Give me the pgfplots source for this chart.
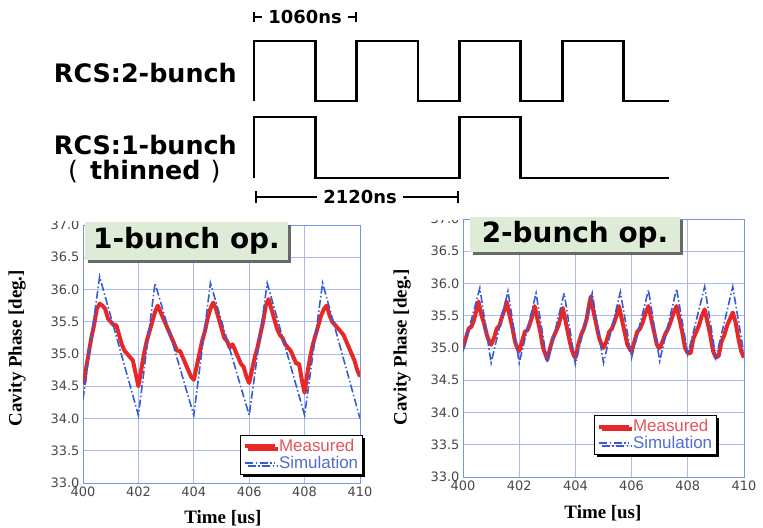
\documentclass[border=0pt]{standalone}
\usepackage{pgfplots}
\pgfplotsset{compat=1.18}
\usepackage{fontspec}
\setmainfont{Liberation Serif}
\newfontfamily\dejavu{DejaVu Sans}
\newfontfamily\libsans{Liberation Sans}
\usetikzlibrary{shadows}
\definecolor{measc}{RGB}{230,40,40}
\definecolor{simc}{RGB}{55,90,215}
\definecolor{gridc}{RGB}{170,185,240}
\definecolor{framec}{RGB}{120,145,235}
\definecolor{measT}{RGB}{228,85,90}
\definecolor{simT}{RGB}{80,110,210}
\definecolor{boxg}{RGB}{222,235,214}
\pgfplotsset{
 phase/.style={
  scale only axis, xmin=400, xmax=410, ymin=33, ymax=37,
  xtick={400,402,...,410}, ytick={33,33.5,...,37},
  grid=major, major grid style={gridc, line width=0.8bp},
  axis line style={framec, line width=0.9bp},
  tick style={draw=none},
  tick label style={font=\dejavu\fontsize{13}{13}\selectfont, text=black!72, /pgf/number format/assume math mode=true},
  yticklabel style={/pgf/number format/.cd, fixed, fixed zerofill, precision=1},
  xticklabel style={/pgf/number format/1000 sep={}},
  label style={font=\bfseries\fontsize{19}{19}\selectfont},
  xlabel={Time [us]}, ylabel={Cavity Phase [deg.]},
  legend image code/.code={\draw[##1] (0bp,0bp) -- (30bp,0bp);},
  legend style={font=\libsans\fontsize{17}{18}\selectfont, draw=black, line width=0.8bp, fill=white, inner sep=2.5bp, row sep=-1bp, cells={anchor=west}, drop shadow={shadow xshift=2.5bp, shadow yshift=-2.5bp, fill=black, opacity=1}},
 },
 measline/.style={measc, line width=4bp, line join=round},
 simline/.style={simc, line width=1.6bp, dash pattern=on 8bp off 2.5bp on 1.5bp off 2.5bp},
 wave/.style={hide axis, scale only axis, clip=false, anchor=south west, width=415.2bp, xmin=0, xmax=4280, ymin=0, ymax=1},
}
\begin{document}
\begin{tikzpicture}
\path[use as bounding box] (0,0) rectangle (763bp,-528bp);
% ---------- timing diagram ----------
\begin{axis}[wave, at={(254bp,-101bp)}, height=60bp]
\addplot[const plot, black, line width=2.8bp] coordinates {(0,0)(0,1)(630,0)(1060,1)(1690,0)(2120,1)(2750,0)(3180,1)(3810,0)(4280,0)};
\end{axis}
\begin{axis}[wave, at={(254bp,-178bp)}, height=61bp]
\addplot[const plot, black, line width=2.8bp] coordinates {(0,0)(0,1)(630,0)(2120,1)(2750,0)(4280,0)};
\end{axis}
\node[anchor=east, inner sep=0, font=\dejavu\bfseries\fontsize{25.5}{26}\selectfont] at (237bp,-73bp) {RCS:2-bunch};
\node[anchor=east, inner sep=0, font=\dejavu\bfseries\fontsize{25.5}{26}\selectfont] at (237bp,-145bp) {RCS:1-bunch};
\node[anchor=west, inner sep=0, font=\dejavu\bfseries\fontsize{25.5}{26}\selectfont] at (68bp,-172bp) {{\mdseries(}\hspace{12bp}thinned\hspace{10bp}{\mdseries)}};
\node[inner sep=0, font=\dejavu\bfseries\fontsize{18}{18}\selectfont] at (305bp,-17bp) {1060ns};
\draw[line width=1.5bp] (254bp,-12bp) -- (254bp,-22bp) (254bp,-17bp) -- (262bp,-17bp)
  (348bp,-17bp) -- (356bp,-17bp) (356bp,-12bp) -- (356bp,-22bp);
\node[inner sep=0, font=\dejavu\bfseries\fontsize{18}{18}\selectfont] at (360bp,-197bp) {2120ns};
\draw[line width=1.8bp] (256bp,-191bp) -- (256bp,-203bp) (256bp,-197bp) -- (317bp,-197bp)
  (403bp,-197bp) -- (458bp,-197bp) (458bp,-191bp) -- (458bp,-203bp);
% ---------- 1-bunch ----------
\begin{axis}[phase, at={(83bp,-483bp)}, anchor=south west, width=277bp, height=258bp,
 ylabel style={at={(axis description cs:-0.238,0.523)}, anchor=center},
 xlabel style={at={(axis description cs:0.505,-0.136)}, anchor=center},
 legend style={at={(1.011,0.031)}, anchor=south east}]
\addplot[measline] coordinates {
(400.00,34.60)(400.05,34.55)(400.1,34.75)(400.2,35.0)(400.3,35.25)(400.4,35.45)(400.5,35.7)(400.6,35.78)(400.7,35.75)(400.8,35.7)(400.9,35.55)
(401.0,35.5)(401.1,35.45)(401.2,35.45)(401.3,35.3)(401.4,35.15)(401.5,35.05)(401.6,35.0)(401.7,34.95)(401.8,34.9)(401.9,34.7)
(402.0,34.5)(402.1,34.75)(402.2,35.0)(402.3,35.2)(402.4,35.35)(402.5,35.5)(402.6,35.65)(402.7,35.75)(402.8,35.65)(402.9,35.55)
(403.0,35.45)(403.1,35.35)(403.2,35.25)(403.3,35.15)(403.4,35.05)(403.5,35.05)(403.6,34.95)(403.7,34.85)(403.8,34.75)(403.9,34.65)
(404.0,34.6)(404.1,34.8)(404.2,35.0)(404.3,35.2)(404.4,35.35)(404.5,35.55)(404.6,35.7)(404.7,35.8)(404.8,35.7)(404.9,35.55)
(405.0,35.4)(405.1,35.25)(405.2,35.2)(405.3,35.1)(405.4,35.15)(405.5,35.05)(405.6,34.95)(405.7,34.85)(405.8,34.8)(405.9,34.65)
(406.0,34.55)(406.1,34.75)(406.2,34.95)(406.3,35.1)(406.4,35.3)(406.5,35.5)(406.6,35.75)(406.7,35.85)(406.8,35.7)(406.9,35.55)
(407.0,35.4)(407.1,35.3)(407.2,35.25)(407.3,35.15)(407.4,35.1)(407.5,35.05)(407.6,34.95)(407.7,34.85)(407.8,34.85)(407.9,34.6)
(408.0,34.4)(408.1,34.7)(408.2,34.95)(408.3,35.15)(408.4,35.3)(408.5,35.45)(408.6,35.6)(408.7,35.7)(408.8,35.75)(408.9,35.6)
(409.0,35.5)(409.1,35.45)(409.2,35.4)(409.3,35.35)(409.4,35.3)(409.5,35.2)(409.6,35.1)(409.7,35.0)(409.8,34.9)(409.9,34.75)(410.0,34.65)};
\addlegendentry{\textcolor{measT}{Measured}}
\addplot[simline] coordinates {(400,34.3)(400.6,36.2)(402.0,34.05)(402.6,36.1)(404.0,34.05)(404.6,36.1)(406.0,34.05)(406.65,36.1)(408.0,34.05)(408.65,36.1)(410.0,34.0)};
\addlegendentry{\textcolor{simT}{Simulation}}
\end{axis}
% ---------- 2-bunch ----------
\begin{axis}[phase, at={(463bp,-477bp)}, anchor=south west, width=281bp, height=258bp,
 ylabel style={at={(axis description cs:-0.217,0.502)}, anchor=center},
 xlabel style={at={(axis description cs:0.498,-0.139)}, anchor=center},
 legend style={at={(0.904,0.085)}, anchor=south east}]
\addplot[measline] coordinates {
(400.0,35.0)(400.1,35.15)(400.2,35.3)(400.3,35.33)(400.4,35.45)(400.5,35.62)(400.55,35.72)(400.65,35.52)(400.75,35.38)(400.85,35.2)(400.95,35.08)
(401.0,35.05)(401.1,35.15)(401.2,35.3)(401.3,35.35)(401.4,35.5)(401.5,35.62)(401.55,35.72)(401.65,35.52)(401.75,35.33)(401.85,35.1)(401.95,34.98)
(402.0,34.95)(402.1,35.1)(402.2,35.25)(402.3,35.28)(402.4,35.4)(402.5,35.55)(402.55,35.65)(402.65,35.45)(402.75,35.25)(402.85,35.0)(402.95,34.88)
(403.0,34.82)(403.1,35.0)(403.2,35.15)(403.3,35.25)(403.4,35.35)(403.5,35.52)(403.55,35.62)(403.65,35.42)(403.75,35.2)(403.85,35.0)(403.95,34.88)
(404.0,34.85)(404.1,35.05)(404.2,35.2)(404.3,35.3)(404.4,35.45)(404.5,35.7)(404.55,35.8)(404.65,35.55)(404.75,35.35)(404.85,35.15)(404.95,35.03)
(405.0,35.0)(405.1,35.1)(405.2,35.25)(405.3,35.3)(405.4,35.42)(405.5,35.55)(405.55,35.65)(405.65,35.45)(405.75,35.25)(405.85,35.05)(405.95,34.97)
(406.0,34.95)(406.1,35.1)(406.2,35.25)(406.3,35.3)(406.4,35.4)(406.5,35.55)(406.6,35.65)(406.7,35.45)(406.8,35.25)(406.9,35.05)(406.97,35.0)
(407.0,35.0)(407.1,35.1)(407.2,35.22)(407.3,35.3)(407.4,35.42)(407.5,35.55)(407.6,35.65)(407.7,35.45)(407.8,35.25)(407.9,35.0)(408.0,34.92)
(408.1,34.92)(408.2,35.15)(408.3,35.25)(408.4,35.35)(408.5,35.5)(408.6,35.6)(408.7,35.4)(408.8,35.2)(408.9,34.95)(409.0,34.85)
(409.1,34.88)(409.2,35.1)(409.3,35.2)(409.4,35.35)(409.5,35.45)(409.6,35.55)(409.7,35.4)(409.8,35.15)(409.9,34.95)(410.0,34.85)};
\addlegendentry{\textcolor{measT}{Measured}}
\addplot[simline] coordinates {(400,34.95)(400.6,35.93)(401.0,34.77)(401.6,35.88)(402.0,34.77)(402.6,35.85)(403.0,34.77)(403.6,35.85)(404.0,34.75)(404.6,35.85)(405.0,34.77)(405.6,35.87)(406.0,34.85)(406.6,35.9)(407.0,34.8)(407.6,35.92)(408.0,34.9)(408.6,35.95)(409.0,34.85)(409.6,35.95)(410.0,34.9)};
\addlegendentry{\textcolor{simT}{Simulation}}
\end{axis}
% ---------- overlays ----------
\fill[white] (400bp,-204bp) rectangle (462bp,-219.5bp);
\fill[white] (30bp,-205bp) rectangle (81bp,-221bp);
\node[fill=boxg, minimum width=203bp, minimum height=38bp, inner sep=0, font=\dejavu\bfseries\fontsize{28}{28}\selectfont, drop shadow={shadow xshift=3bp, shadow yshift=-3bp, fill=black!65, opacity=0.9}] at (186.5bp,-241bp) {1-bunch op.};
\node[fill=boxg, minimum width=210bp, minimum height=35bp, inner sep=0, font=\dejavu\bfseries\fontsize{28}{28}\selectfont, drop shadow={shadow xshift=3bp, shadow yshift=-3bp, fill=black!65, opacity=0.9}] at (575bp,-234.5bp) {2-bunch op.};
\end{tikzpicture}
\end{document}
